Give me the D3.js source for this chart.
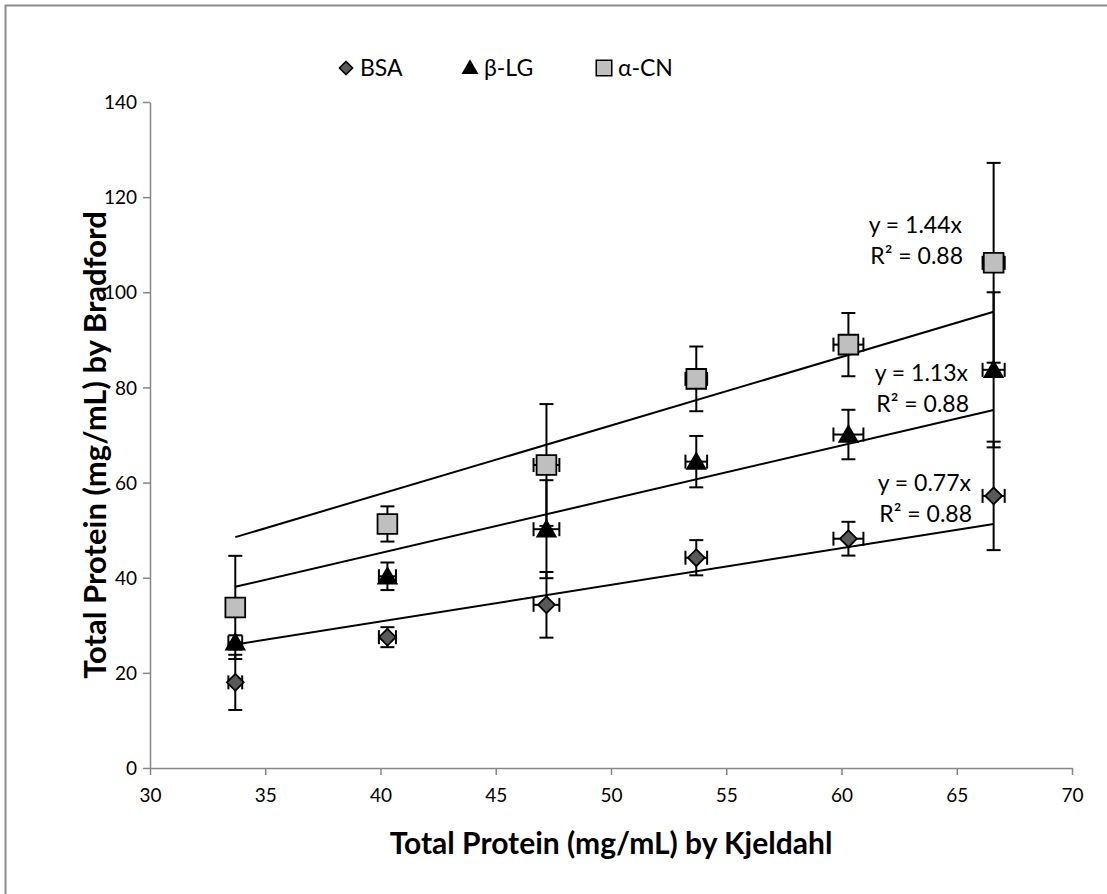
<!DOCTYPE html>
<html>
<head>
<meta charset="utf-8">
<script src="https://cdn.jsdelivr.net/npm/d3@7"></script>
<style>
  html, body { margin: 0; padding: 0; background: #fff; }
  svg { display: block; font-family: Lato, "Open Sans", sans-serif; }
</style>
</head>
<body>
<svg id="chart" width="1107" height="894"></svg>
<script>
// Total protein: Kjeldahl reference (x) vs Bradford assay with three standards (y)
const kjeldahl    = [33.7, 40.3, 47.2, 53.7, 60.3, 66.6];
const kjeldahlErr = [0.3, 0.37, 0.56, 0.47, 0.65, 0.48];

const bsa    = [18.0, 27.5, 34.3, 44.2, 48.2, 57.2];
const bsaErr = [5.8, 2.1, 6.9, 3.7, 3.55, 11.4];

const blg    = [26.4, 40.3, 50.2, 64.4, 70.1, 83.7];
const blgErr = [1.5, 2.9, 10.3, 5.4, 5.2, 16.3];

const acn    = [33.75, 51.3, 63.7, 81.8, 89.0, 106.2];
const acnErr = [10.85, 3.7, 12.8, 6.8, 6.65, 21.0];

const seriesNames = ["BSA", "β-LG", "α-CN"];
const slopes      = [0.77, 1.13, 1.44];
const r2          = [0.88, 0.88, 0.88];

const xTicks = [30, 35, 40, 45, 50, 55, 60, 65, 70];
const yTicks = [0, 20, 40, 60, 80, 100, 120, 140];

const svg = d3.select("#chart");

// outer chart frame
svg.append("rect")
  .attr("x", 5.5).attr("y", 5.5)
  .attr("width", 1120).attr("height", 910)
  .attr("fill", "none").attr("stroke", "#8c8c8c").attr("stroke-width", 2);

const plot = { left: 150, right: 1072, top: 102, bottom: 768 };

const x = d3.scaleLinear().domain([30, 70]).range([plot.left, plot.right]);
const y = d3.scaleLinear().domain([0, 140]).range([plot.bottom, plot.top]);

// axes
const axisColor = "#868686";
const xAxis = svg.append("g")
  .attr("transform", `translate(0,${plot.bottom})`)
  .call(d3.axisBottom(x).tickValues(xTicks).tickSize(7).tickSizeOuter(0).tickPadding(14));
const yAxis = svg.append("g")
  .attr("transform", `translate(${plot.left},0)`)
  .call(d3.axisLeft(y).tickValues(yTicks).tickSize(7).tickSizeOuter(0).tickPadding(6));

[xAxis, yAxis].forEach(g => {
  g.selectAll("path, line").attr("stroke", axisColor).attr("stroke-width", 1.5);
  g.selectAll("text")
    .attr("fill", "#000")
    .style("font-family", "Lato, sans-serif")
    .style("font-size", "19px");
});
yAxis.selectAll("text").attr("dy", "0.35em");

// axis titles
svg.append("text")
  .attr("x", (plot.left + plot.right) / 2).attr("y", 854)
  .attr("text-anchor", "middle")
  .style("font-size", "30px").style("font-weight", "bold")
  .text("Total Protein (mg/mL) by Kjeldahl");

svg.append("text")
  .attr("transform", `translate(106,${(plot.top + plot.bottom) / 2 + 10}) rotate(-90)`)
  .attr("text-anchor", "middle")
  .style("font-size", "31px").style("font-weight", "bold")
  .text("Total Protein (mg/mL) by Bradford");

// linear fits through the origin, spanning the measured range
const xMin = d3.min(kjeldahl), xMax = d3.max(kjeldahl);
const trend = svg.append("g");
slopes.forEach(m => {
  trend.append("line")
    .attr("x1", x(xMin)).attr("y1", y(m * xMin))
    .attr("x2", x(xMax)).attr("y2", y(m * xMax))
    .attr("stroke", "#000").attr("stroke-width", 2);
});

// marker shapes
const symbols = [
  { type: d3.symbolDiamond2, size: 180, fill: "#595959" },
  { type: d3.symbolTriangle, size: 200, fill: "#000000" },
  { type: d3.symbolSquare,   size: 390, fill: "#bfbfbf" }
];

const series = [
  { values: bsa, err: bsaErr },
  { values: blg, err: blgErr },
  { values: acn, err: acnErr }
];

const cap = 7;
series.forEach((s, si) => {
  const g = svg.append("g");
  const pts = kjeldahl.map((kx, i) => ({ x: kx, xe: kjeldahlErr[i], y: s.values[i], ye: s.err[i] }));

  pts.forEach(p => {
    // vertical error bar
    const cx = x(p.x);
    const y0 = y(p.y - p.ye), y1 = y(p.y + p.ye);
    g.append("line").attr("x1", cx).attr("x2", cx).attr("y1", y0).attr("y2", y1);
    g.append("line").attr("x1", cx - cap).attr("x2", cx + cap).attr("y1", y0).attr("y2", y0);
    g.append("line").attr("x1", cx - cap).attr("x2", cx + cap).attr("y1", y1).attr("y2", y1);
    // horizontal error bar
    const cy = y(p.y);
    const x0 = x(p.x - p.xe), x1 = x(p.x + p.xe);
    g.append("line").attr("x1", x0).attr("x2", x1).attr("y1", cy).attr("y2", cy);
    g.append("line").attr("x1", x0).attr("x2", x0).attr("y1", cy - cap).attr("y2", cy + cap);
    g.append("line").attr("x1", x1).attr("x2", x1).attr("y1", cy - cap).attr("y2", cy + cap);
  });
  g.selectAll("line").attr("stroke", "#000").attr("stroke-width", 2);

  const sym = symbols[si];
  g.selectAll("path.marker")
    .data(pts)
    .join("path")
    .attr("class", "marker")
    .attr("transform", d => `translate(${x(d.x)},${y(d.y) + (si === 1 ? 2 : 0)})`)
    .attr("d", d3.symbol().type(sym.type).size(sym.size))
    .attr("fill", sym.fill)
    .attr("stroke", "#000")
    .attr("stroke-width", si === 1 ? 0 : 1.8);
});

// fit equations, placed beside the last point of each series
const eqPos = [
  { x: 971, y: 483 },
  { x: 968, y: 373 },
  { x: 962, y: 225 }
];
slopes.forEach((m, i) => {
  const t = svg.append("text")
    .attr("text-anchor", "end")
    .style("font-size", "23px");
  t.append("tspan").attr("x", eqPos[i].x).attr("y", eqPos[i].y).attr("dy", "0.35em")
    .text(`y = ${m.toFixed(2)}x`);
  t.append("tspan").attr("x", eqPos[i].x + 1).attr("y", eqPos[i].y + 31).attr("dy", "0.35em")
    .text(`R² = ${r2[i].toFixed(2)}`);
});

// legend
const legendX = [346, 470, 604];
const legend = svg.append("g");
seriesNames.forEach((name, i) => {
  const sym = symbols[i];
  legend.append("path")
    .attr("transform", `translate(${legendX[i]},${68 + (i === 1 ? 1 : 0)})`)
    .attr("d", d3.symbol().type(sym.type).size(sym.size * 0.62))
    .attr("fill", sym.fill)
    .attr("stroke", "#000")
    .attr("stroke-width", i === 1 ? 0 : 1.5);
  legend.append("text")
    .attr("x", legendX[i] + 14).attr("y", 68).attr("dy", "0.35em")
    .style("font-size", "23px")
    .text(name);
});
</script>
</body>
</html>
